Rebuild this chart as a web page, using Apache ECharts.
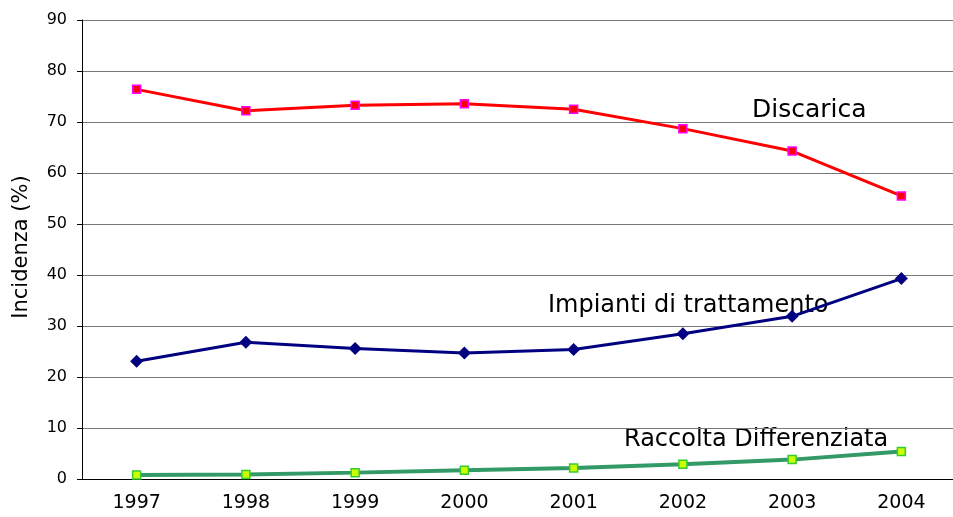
<!DOCTYPE html>
<html>
<head>
<meta charset="utf-8">
<script src="https://cdn.jsdelivr.net/npm/echarts@6/dist/echarts.min.js"></script>
<style>
  html, body { margin: 0; padding: 0; background: #fff; }
  #chart { width: 953px; height: 517px; }
</style>
</head>
<body>
<div id="chart"></div>
<script>
const years = ['1997', '1998', '1999', '2000', '2001', '2002', '2003', '2004']
const discarica = [76.4, 72.2, 73.3, 73.6, 72.5, 68.7, 64.3, 55.5]
const impianti = [23.1, 26.8, 25.6, 24.7, 25.4, 28.5, 31.9, 39.3]
const raccolta = [0.8, 0.9, 1.25, 1.7, 2.15, 2.9, 3.8, 5.4]

const font = 'DejaVu Sans'
const chart = echarts.init(document.getElementById('chart'))

const option = {
  animation: false,
  backgroundColor: '#fff',
  grid: {
    left: 82,
    top: 20,
    bottom: 38,
    width: 874,
    outerBoundsMode: 'none',
    containLabel: false
  },
  xAxis: {
    type: 'category',
    data: years,
    boundaryGap: true,
    axisLine: { lineStyle: { color: '#000', width: 1 } },
    axisTick: { length: 6, lineStyle: { color: '#000' } },
    axisLabel: { color: '#000', fontFamily: font, fontSize: 19, margin: 15 },
    splitLine: { show: false }
  },
  yAxis: {
    type: 'value',
    min: 0,
    max: 90,
    interval: 10,
    axisLine: { show: true, lineStyle: { color: '#000', width: 1 } },
    axisTick: { show: true, length: 5, lineStyle: { color: '#000' } },
    axisLabel: { color: '#000', fontFamily: font, fontSize: 16, margin: 15 },
    splitLine: { lineStyle: { color: '#777', width: 1 } }
  },
  series: [
    {
      name: 'Discarica',
      type: 'line',
      data: discarica,
      symbol: 'rect',
      symbolSize: 8,
      lineStyle: { color: '#ff0000', width: 3 },
      itemStyle: { color: '#ff0000', borderColor: '#ff00ff', borderWidth: 1.5 }
    },
    {
      name: 'Impianti di trattamento',
      type: 'line',
      data: impianti,
      symbol: 'diamond',
      symbolSize: 13,
      lineStyle: { color: '#000080', width: 3 },
      itemStyle: { color: '#000080' }
    },
    {
      name: 'Raccolta Differenziata',
      type: 'line',
      data: raccolta,
      symbol: 'rect',
      symbolSize: 8,
      lineStyle: { color: '#339966', width: 4 },
      itemStyle: { color: '#ccff00', borderColor: '#33cc33', borderWidth: 1.5 },
      z: 3
    }
  ],
  graphic: [
    {
      type: 'text',
      x: 22,
      y: 247,
      rotation: Math.PI / 2,
      style: { text: 'Incidenza (%)', fill: '#000', font: '21px "DejaVu Sans"', textAlign: 'center', textVerticalAlign: 'middle' }
    },
    {
      type: 'text',
      x: 752,
      y: 110,
      style: { text: 'Discarica', fill: '#000', font: '25px "DejaVu Sans"', textAlign: 'left', textVerticalAlign: 'middle' }
    },
    {
      type: 'text',
      x: 548,
      y: 306,
      style: { text: 'Impianti di trattamento', fill: '#000', font: '24px "DejaVu Sans"', textAlign: 'left', textVerticalAlign: 'middle' }
    },
    {
      type: 'text',
      x: 624,
      y: 440,
      style: { text: 'Raccolta Differenziata', fill: '#000', font: '24px "DejaVu Sans"', textAlign: 'left', textVerticalAlign: 'middle' }
    }
  ]
}

chart.setOption(option)
</script>
</body>
</html>
